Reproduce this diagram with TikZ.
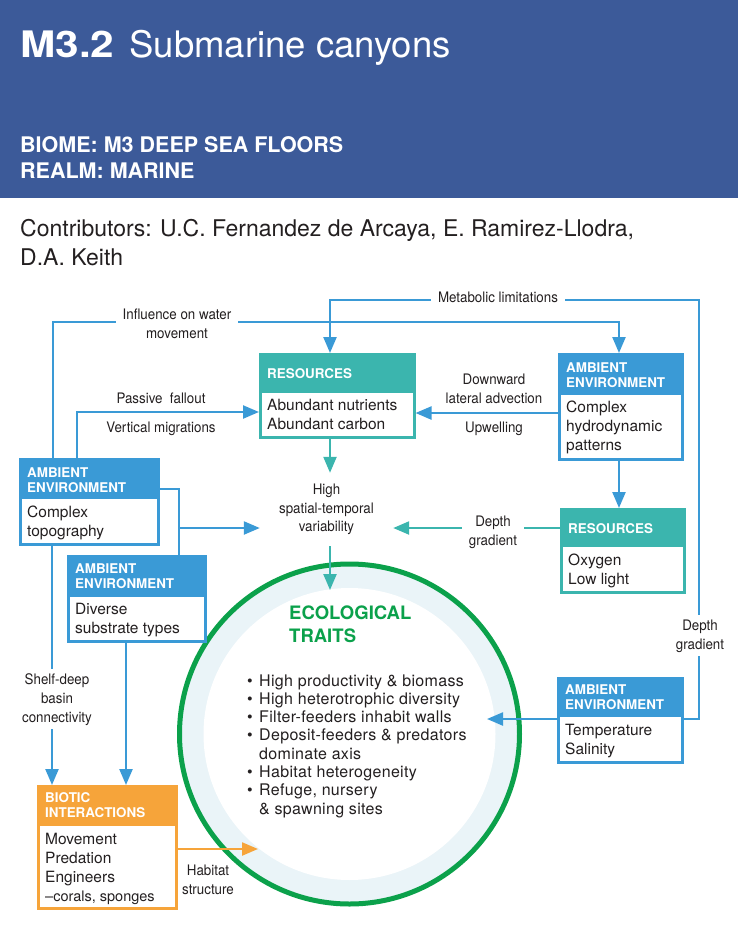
\documentclass[tikz,border=0pt]{standalone}
\usepackage{fontspec}
\setmainfont{TeX Gyre Heros}
\newfontfamily\hvc[FakeStretch=0.92]{TeX Gyre Heros}
\newfontfamily\hvt[LetterSpace=2.0]{TeX Gyre Heros}
\newfontfamily\hvw[FakeStretch=1.16]{TeX Gyre Heros}
\usetikzlibrary{arrows.meta}

\definecolor{hdrblue}{RGB}{60,90,153}
\definecolor{envblue}{RGB}{58,154,214}
\definecolor{resteal}{RGB}{59,181,174}
\definecolor{bioorange}{RGB}{246,164,58}
\definecolor{ecogreen}{RGB}{11,161,75}
\definecolor{ringblue}{RGB}{234,244,248}
\definecolor{ink}{RGB}{35,31,32}

% multi-line nodes are placed by the baseline of their last line
\tikzset{
  >={Triangle[length=16pt,width=13pt]},
  cbox/.style={rectangle, draw, line width=2.5pt, fill=white, inner sep=0pt, anchor=north west},
  hdrtxt/.style={anchor=base west, inner sep=0pt, align=left, text=white,
                 font=\fontsize{13.4}{15.5}\selectfont\bfseries},
  bodytxt/.style={anchor=base west, inner sep=0pt, align=left, text=ink,
                  font=\fontsize{15.5}{19}\selectfont},
  link/.style={line width=2.3pt},
  lbl/.style={anchor=base, inner sep=0pt, align=center, text=ink,
              font=\hvc\fontsize{14.5}{19}\selectfont},
  gap/.style={lbl, fill=white, inner xsep=7pt, inner ysep=4pt},
}

\begin{document}
\begin{tikzpicture}[x=1pt, y=-1pt]
\useasboundingbox (0,0) rectangle (738,930);

% ---------- title band ----------
\fill[hdrblue] (0,0) rectangle (738,198);
\node[anchor=base west, inner sep=0pt, text=white, font=\fontsize{36.5}{40}\selectfont]
  (title) at (20,57) {{\hvw\bfseries M3.2}\hspace{5pt} Submarine canyons};
\node[anchor=base west, inner sep=0pt, align=left, text=white, font=\fontsize{21.5}{26.5}\selectfont\bfseries]
  (biome) at (20,178.5) {BIOME: M3 DEEP SEA FLOORS\\REALM: MARINE};
\node[anchor=base west, inner sep=0pt, align=left, text=ink, font=\fontsize{23}{29}\selectfont]
  (contrib) at (20,265) {Contributors: U.C. Fernandez de Arcaya, E. Ramirez-Llodra,\\D.A. Keith};

% ---------- ecological traits circle ----------
\coordinate (ecoC) at (349.5,734);
\fill[ringblue] (ecoC) circle[radius=168pt];
\fill[white] (ecoC) circle[radius=146pt];
\node[circle, draw=ecogreen, line width=5pt, minimum size=340pt, inner sep=0pt] (eco) at (ecoC) {};
\node[anchor=base west, inner sep=0pt, align=left, text=ecogreen,
      font=\fontsize{18.5}{23}\selectfont\bfseries] (ecotitle) at (289,642) {ECOLOGICAL\\TRAITS};
\node[anchor=base west, inner sep=0pt, text=ink, font=\hvt\fontsize{16}{18.3}\selectfont] (traits) at (247,686)
  {\begin{tabular}[t]{@{}p{12pt}@{}l@{}}
   \textbullet & High productivity \& biomass\\
   \textbullet & High heterotrophic diversity\\
   \textbullet & Filter-feeders inhabit walls\\
   \textbullet & Deposit-feeders \& predators\\
               & dominate axis\\
   \textbullet & Habitat heterogeneity\\
   \textbullet & Refuge, nursery\\
               & \& spawning sites
   \end{tabular}};
\coordinate (ecoN) at (330,590);
\coordinate (ecoE) at (487,719);
\coordinate (ecoW) at (258,849);

% ---------- boxes ----------
% ambient: complex topography
\node[cbox, draw=envblue, minimum width=138pt, minimum height=85pt] (topo) at (19,458) {};
\fill[envblue] (topo.north west) rectangle ([yshift=-41pt]topo.north east);
\node[hdrtxt] at ([xshift=8pt,yshift=-34.5pt]topo.north west) {AMBIENT\\ENVIRONMENT};
\node[bodytxt] at ([xshift=8pt,yshift=-78pt]topo.north west) {Complex\\topography};

% resources: nutrients and carbon
\node[cbox, draw=resteal, minimum width=154pt, minimum height=83pt] (res1) at (259,353) {};
\fill[resteal] (res1.north west) rectangle ([yshift=-40pt]res1.north east);
\node[hdrtxt] at ([xshift=8pt,yshift=-25pt]res1.north west) {RESOURCES};
\node[bodytxt] at ([xshift=8pt,yshift=-76pt]res1.north west) {Abundant nutrients\\Abundant carbon};

% ambient: hydrodynamics
\node[cbox, draw=envblue, minimum width=123pt, minimum height=105pt] (hydro) at (558,353) {};
\fill[envblue] (hydro.north west) rectangle ([yshift=-42pt]hydro.north east);
\node[hdrtxt] at ([xshift=8pt,yshift=-34.5pt]hydro.north west) {AMBIENT\\ENVIRONMENT};
\node[bodytxt] at ([xshift=8pt,yshift=-97pt]hydro.north west) {Complex\\hydrodynamic\\patterns};

% resources: oxygen and light
\node[cbox, draw=resteal, minimum width=123pt, minimum height=83pt] (oxy) at (560,508) {};
\fill[resteal] (oxy.north west) rectangle ([yshift=-39pt]oxy.north east);
\node[hdrtxt] at ([xshift=8pt,yshift=-25pt]oxy.north west) {RESOURCES};
\node[bodytxt] at ([xshift=8pt,yshift=-76pt]oxy.north west) {Oxygen\\Low light};

% ambient: substrates
\node[cbox, draw=envblue, minimum width=137pt, minimum height=85pt] (subst) at (67,555) {};
\fill[envblue] (subst.north west) rectangle ([yshift=-42pt]subst.north east);
\node[hdrtxt] at ([xshift=8pt,yshift=-33.5pt]subst.north west) {AMBIENT\\ENVIRONMENT};
\node[bodytxt] at ([xshift=8pt,yshift=-78pt]subst.north west) {Diverse\\substrate types};

% ambient: temperature and salinity
\node[cbox, draw=envblue, minimum width=124pt, minimum height=84pt] (temp) at (557,677) {};
\fill[envblue] (temp.north west) rectangle ([yshift=-40pt]temp.north east);
\node[hdrtxt] at ([xshift=8pt,yshift=-32.5pt]temp.north west) {AMBIENT\\ENVIRONMENT};
\node[bodytxt] at ([xshift=8pt,yshift=-77pt]temp.north west) {Temperature\\Salinity};

% biotic interactions
\node[cbox, draw=bioorange, minimum width=138pt, minimum height=122pt] (biotic) at (37,785) {};
\fill[bioorange] (biotic.north west) rectangle ([yshift=-41pt]biotic.north east);
\node[hdrtxt] at ([xshift=8pt,yshift=-32.5pt]biotic.north west) {BIOTIC\\INTERACTIONS};
\node[bodytxt] at ([xshift=8pt,yshift=-116pt]biotic.north west)
  {Movement\\Predation\\Engineers\\{\fontsize{14.5}{19}\selectfont \textendash corals, sponges}};

% spatial-temporal variability hub
\node[lbl, anchor=center, minimum width=133pt, minimum height=73pt,
      font=\hvc\fontsize{14.5}{18.5}\selectfont] (spatial) at (326.5,509.5)
  {High\\spatial-temporal\\variability};

% ---------- bend points ----------
\coordinate (a1) at (53,322);
\coordinate (a2) at (619,322);
\coordinate (b1) at (699,719);
\coordinate (b2) at (699,300);
\coordinate (b3) at (330,300);
\coordinate (d1) at (77,412);
\coordinate (e1) at (179,489);
\coordinate (e2) at (179,528);
\coordinate (f1) at (52,700);
\coordinate (g1) at (126,700);
\coordinate (vx) at (330,500);
\coordinate (k1) at (500,528);
\coordinate (l1) at (500,413);

% ---------- connectors ----------
\draw[link, envblue, ->] (topo.north -| a1) -- (a1) -- (a2) -- (hydro.north -| a2);
\draw[link, envblue, ->] (temp.east |- b1) -- (b1) -- (b2) -- (b3) -- (res1.north -| b3);
\draw[link, envblue, ->] (topo.north -| d1) -- (d1) -- (res1.west |- d1);
\draw[link, envblue] (topo.east |- e1) -- (e1) -- (subst.north -| e1);
\draw[link, envblue, ->] (e2) -- (spatial.west |- e2);
\draw[link, envblue, ->] (topo.south -| f1) -- (biotic.north -| f1);
\draw[link, envblue, ->] (subst.south -| g1) -- (biotic.north -| g1);
\draw[link, envblue, ->] (hydro.west |- l1) -- (res1.east |- l1);
\draw[link, envblue, ->] (hydro.south -| a2) -- (oxy.north -| a2);
\draw[link, envblue, ->] (temp.west |- b1) -- (ecoE);
\draw[link, resteal, ->] (res1.south -| vx) -- (spatial.north -| vx);
\draw[link, resteal, ->] (spatial.south -| vx) -- (ecoN);
\draw[link, resteal, ->] (oxy.west |- k1) -- (spatial.east |- k1);
\draw[link, bioorange, ->] (biotic.east |- ecoW) -- (ecoW);

% ---------- connector labels ----------
\node[gap] (lInf) at (177,338) {Influence on water\\movement};
\node[gap] (lMet) at (498,302) {Metabolic limitations};
\node[gap] (lDepR) at (700,649) {Depth\\gradient};
\node[lbl] (lPas) at (161,403) {Passive\ \ fallout};
\node[lbl] (lVert) at (161,432) {Vertical migrations};
\node[lbl] (lDown) at (494,403) {Downward\\lateral advection};
\node[lbl] (lUp) at (494,432) {Upwelling};
\node[gap] (lDepC) at (493,545) {Depth\\gradient};
\node[gap] (lShelf) at (57,722) {Shelf-deep\\basin\\connectivity};
\node[lbl] (lHab) at (208,894) {Habitat\\structure};
\end{tikzpicture}
\end{document}
